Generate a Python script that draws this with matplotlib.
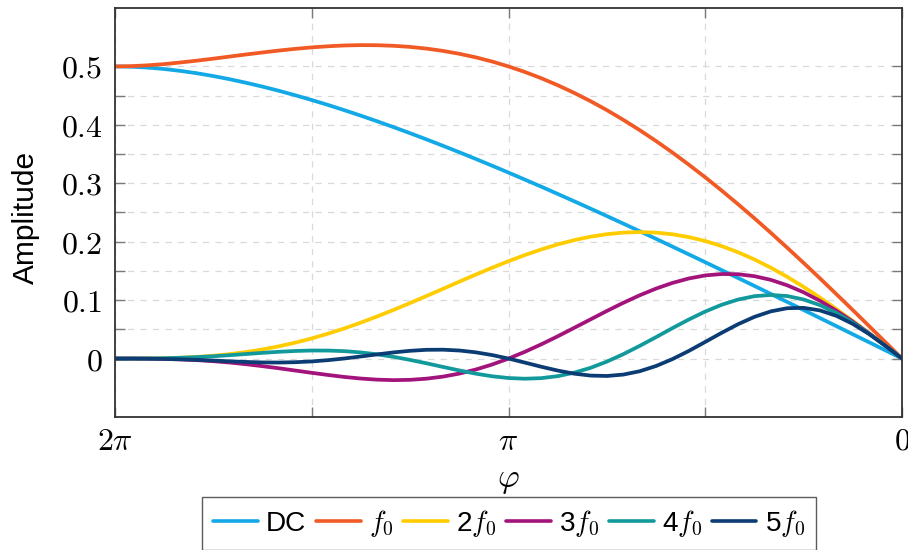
import numpy as np
import matplotlib
matplotlib.use("Agg")
import matplotlib.pyplot as plt
from matplotlib.ticker import FixedLocator, FixedFormatter

plt.rcParams['font.family'] = ['Liberation Sans', 'DejaVu Sans']
plt.rcParams['mathtext.fontset'] = 'cm'

# conduction angle phi, in units of pi (sample positions along the x axis)
phi_pi = [0/24, 1/24, 2/24, 3/24, 4/24, 5/24, 6/24, 7/24, 8/24, 9/24, 10/24, 11/24,
          12/24, 13/24, 14/24, 15/24, 16/24, 17/24, 18/24, 19/24, 20/24, 21/24, 22/24, 23/24,
          24/24, 25/24, 26/24, 27/24, 28/24, 29/24, 30/24, 31/24, 32/24, 33/24, 34/24, 35/24,
          36/24, 37/24, 38/24, 39/24, 40/24, 41/24, 42/24, 43/24, 44/24, 45/24, 46/24, 47/24,
          48/24]

dc = [0, 0.0139, 0.0278, 0.0416, 0.0555, 0.0693, 0.0831, 0.0969, 0.1106, 0.1243, 0.1379,
      0.1514, 0.1649, 0.1783, 0.1916, 0.2049, 0.2180, 0.2310, 0.2439, 0.2567, 0.2693, 0.2818,
      0.2942, 0.3063, 0.3183, 0.3301, 0.3417, 0.3531, 0.3642, 0.3751, 0.3857, 0.3960, 0.4060,
      0.4157, 0.4250, 0.4340, 0.4425, 0.4506, 0.4583, 0.4654, 0.4720, 0.4781, 0.4835, 0.4883,
      0.4923, 0.4956, 0.4980, 0.4995, 0.5000]
h1 = [0, 0.0278, 0.0554, 0.0830, 0.1102, 0.1372, 0.1637, 0.1897, 0.2152, 0.2401, 0.2642,
      0.2876, 0.3102, 0.3318, 0.3526, 0.3723, 0.3910, 0.4086, 0.4252, 0.4406, 0.4548, 0.4679,
      0.4798, 0.4905, 0.5000, 0.5084, 0.5156, 0.5216, 0.5266, 0.5305, 0.5334, 0.5353, 0.5363,
      0.5365, 0.5359, 0.5345, 0.5326, 0.5301, 0.5272, 0.5239, 0.5205, 0.5169, 0.5133, 0.5099,
      0.5068, 0.5040, 0.5019, 0.5005, 0.5000]
h2 = [0, 0.0218, 0.0433, 0.0644, 0.0848, 0.1043, 0.1227, 0.1398, 0.1555, 0.1696, 0.1820,
      0.1925, 0.2012, 0.2079, 0.2127, 0.2156, 0.2165, 0.2156, 0.2129, 0.2086, 0.2027, 0.1954,
      0.1868, 0.1772, 0.1667, 0.1554, 0.1437, 0.1316, 0.1193, 0.1071, 0.0951, 0.0834, 0.0722,
      0.0616, 0.0517, 0.0427, 0.0345, 0.0273, 0.0210, 0.0156, 0.0112, 0.0076, 0.0049, 0.0028,
      0.0015, 0.0006, 0.0002, 0.0000, 0]
h3 = [0, 0.0217, 0.0430, 0.0632, 0.0819, 0.0988, 0.1134, 0.1254, 0.1347, 0.1410, 0.1444,
      0.1447, 0.1423, 0.1371, 0.1295, 0.1198, 0.1083, 0.0954, 0.0815, 0.0670, 0.0525, 0.0381,
      0.0244, 0.0116, 0, -0.0102, -0.0188, -0.0257, -0.0309, -0.0344, -0.0364, -0.0369,
      -0.0361, -0.0342, -0.0315, -0.0281, -0.0244, -0.0205, -0.0166, -0.0130, -0.0097,
      -0.0068, -0.0045, -0.0027, -0.0014, -0.0006, -0.0002, 0, 0]
h4 = [0, 0.0217, 0.0424, 0.0615, 0.0780, 0.0914, 0.1011, 0.1070, 0.1089, 0.1068, 0.1010,
      0.0921, 0.0805, 0.0669, 0.0521, 0.0367, 0.0217, 0.0075, -0.0052, -0.0159, -0.0242,
      -0.0301, -0.0335, -0.0345, -0.0333, -0.0303, -0.0258, -0.0203, -0.0143, -0.0081,
      -0.0023, 0.0029, 0.0072, 0.0105, 0.0127, 0.0137, 0.0138, 0.0130, 0.0116, 0.0098,
      0.0078, 0.0058, 0.0040, 0.0025, 0.0014, 0.0006, 0.0002, 0, 0]
h5 = [0, 0.0216, 0.0418, 0.0593, 0.0731, 0.0824, 0.0868, 0.0862, 0.0808, 0.0714, 0.0588,
      0.0441, 0.0285, 0.0131, -0.0009, -0.0127, -0.0217, -0.0274, -0.0298, -0.0291, -0.0258,
      -0.0205, -0.0140, -0.0069, 0, 0.0060, 0.0107, 0.0138, 0.0152, 0.0150, 0.0133, 0.0106,
      0.0072, 0.0036, 0.0002, -0.0027, -0.0049, -0.0062, -0.0068, -0.0066, -0.0058, -0.0047,
      -0.0034, -0.0022, -0.0013, -0.0006, -0.0002, 0, 0]

series = [dc, h1, h2, h3, h4, h5]
labels = ['DC', r'$f_0$', r'2$f_0$', r'3$f_0$', r'4$f_0$', r'5$f_0$']
colors = ['#12a9e6', '#f15a24', '#ffcc00', '#a3137c', '#12999c', '#0b3c73']

x_ticks_pi = [0, 0.5, 1, 1.5, 2]
x_tick_labels = [r'$0$', '', r'$\pi$', '', r'$2\pi$']
y_major = [0, 0.1, 0.2, 0.3, 0.4, 0.5]
y_major_labels = [r'$0$', r'$0.1$', r'$0.2$', r'$0.3$', r'$0.4$', r'$0.5$']
y_minor = [0.05, 0.15, 0.25, 0.35, 0.45]

W, H = 908, 550
fig = plt.figure(figsize=(W / 100, H / 100), dpi=100)
ax = fig.add_axes([115 / W, 1 - 417 / H, 787 / W, 409 / H])

x = np.array(phi_pi) * np.pi
for ys, lab, col in zip(series, labels, colors):
    ax.plot(x, ys, color=col, lw=2.7, label=lab, solid_capstyle='round', solid_joinstyle='round')

ax.set_xlim(2 * np.pi, 0)
ax.set_ylim(-0.1, 0.6)

ax.xaxis.set_major_locator(FixedLocator(np.array(x_ticks_pi) * np.pi))
ax.xaxis.set_major_formatter(FixedFormatter(x_tick_labels))
ax.yaxis.set_major_locator(FixedLocator(y_major))
ax.yaxis.set_major_formatter(FixedFormatter(y_major_labels))
ax.yaxis.set_minor_locator(FixedLocator(y_minor))

ax.tick_params(which='both', direction='in', length=7, width=1.0, color='#7a7a7a',
               top=True, right=True, labelsize=23)
ax.tick_params(axis='y', pad=9)
ax.tick_params(axis='x', pad=7)

ax.grid(True, which='major', axis='both', linestyle=(0, (5, 5)), color='#d9d9d9', lw=0.9)
ax.grid(True, which='minor', axis='y', linestyle=(0, (5, 5)), color='#d9d9d9', lw=0.9)
ax.set_axisbelow(True)

for sp in ax.spines.values():
    sp.set_color('#333333')
    sp.set_linewidth(1.3)

ax.set_ylabel('Amplitude', fontsize=21.5)
ax.yaxis.set_label_coords((39.5 - 115) / 787, (417 - 217) / 409)
ax.set_xlabel(r'$\varphi$', fontsize=24, labelpad=6)

leg = fig.legend(loc='upper center', bbox_to_anchor=(509 / W, 1 - 497 / H), ncol=6,
                 fontsize=20.2, frameon=True, fancybox=False, edgecolor='#333333',
                 handlelength=1.6, handletextpad=0.3, columnspacing=0.33,
                 borderpad=0.4, borderaxespad=0)
leg.get_frame().set_linewidth(1.0)
for line in leg.get_lines():
    line.set_linewidth(2.6)

fig.savefig('out.png', dpi=100)
